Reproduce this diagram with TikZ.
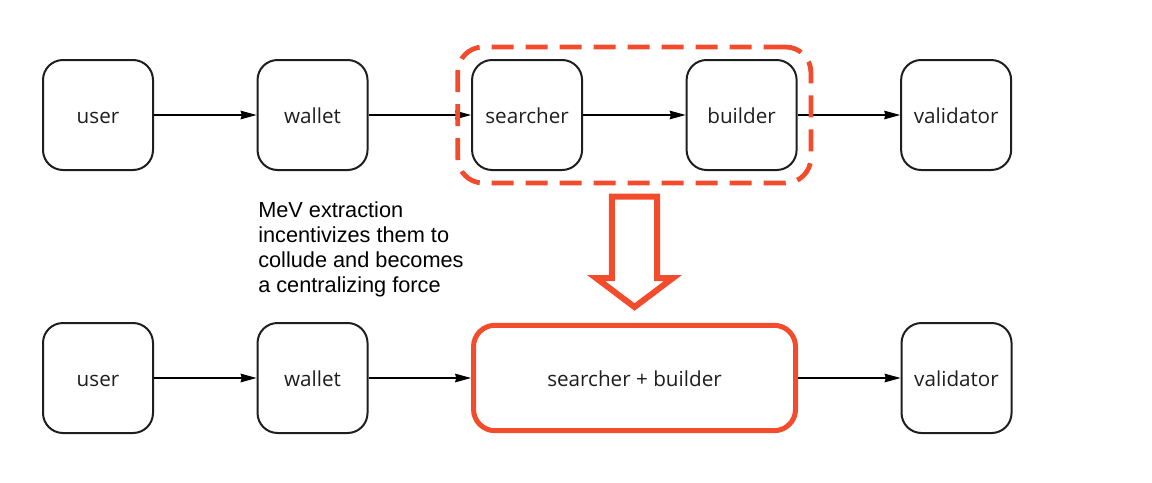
\documentclass[tikz,border=0pt]{standalone}
\usepackage{fontspec}
\setmainfont{Open Sans}
\newfontfamily\notefont{Liberation Sans}
\usetikzlibrary{arrows.meta,positioning,fit}
\definecolor{mevred}{RGB}{242,76,44}
\definecolor{boxline}{RGB}{30,30,30}

\begin{document}
\begin{tikzpicture}[x=0.75pt, y=-0.75pt, node distance=160.9pt,
	party/.style={draw=boxline, line width=1.5pt, rounded corners=15pt,
		minimum width=82.5pt, minimum height=82.5pt, inner sep=0pt,
		text height=12.4pt, text depth=0pt,
		text=boxline, font=\fontsize{15.5}{18}\selectfont},
	merged/.style={draw=mevred, line width=3.75pt, rounded corners=16pt,
		minimum width=241.5pt, minimum height=79pt, inner sep=0pt,
		text height=12.4pt, text depth=0pt,
		text=boxline, font=\fontsize{15.5}{18}\selectfont},
	dashbox/.style={draw=mevred, line width=3.6pt, rounded corners=19pt,
		dash pattern=on 16.5pt off 9pt, inner xsep=10pt, inner ysep=9pt},
	flow/.style={-{Stealth[length=12pt,width=6.5pt,inset=1pt]}, line width=0.8pt},
	bigarrow/.style={draw=mevred, line width=4.5pt, miter limit=10}]
	\useasboundingbox (0,0) rectangle (1152,482);

	% today: every party is separate
	\node[party] (user) at (98,115) {user};
	\node[party] (wallet)    [right of=user]     {wallet};
	\node[party] (searcher)  [right of=wallet]   {searcher};
	\node[party] (builder)   [right of=searcher] {builder};
	\node[party] (validator) [right of=builder]  {validator};

	\draw [flow] (user)     -- (wallet);
	\draw [flow] (wallet)   -- (searcher);
	\draw [flow] (searcher) -- (builder);
	\draw [flow] (builder)  -- (validator);

	\node[dashbox, fit=(searcher)(builder)] (group) {};

	\node[font=\notefont\fontsize{16.3}{18.75}\selectfont, align=left,
		inner sep=0pt, anchor=north west] (note) at (258,201)
		{MeV extraction\\incentivizes them to\\collude and becomes\\a centralizing force};

	% hollow arrow
	\coordinate (arrowtop) at (634.5,196.5);
	\draw [bigarrow] (arrowtop) ++(-22.7,0) -- ++(45.4,0) -- ++(0,81.5)
		-- ++(15.8,0) -- ++(-38.5,29) -- ++(-38.5,-29) -- ++(15.8,0) -- cycle;

	% after: searcher and builder merged
	\node[party] (user2) [below of=user, node distance=197.25pt] {user};
	\node[party] (wallet2) [right of=user2] {wallet};
	\node[merged] (sb) [right of=wallet2, node distance=241.5pt] {searcher + builder};
	\node[party] (validator2) [right of=sb, node distance=241.5pt] {validator};

	\draw [flow] (user2)   -- (wallet2);
	\draw [flow] (wallet2) -- (sb);
	\draw [flow] (sb)      -- (validator2);
\end{tikzpicture}
\end{document}
